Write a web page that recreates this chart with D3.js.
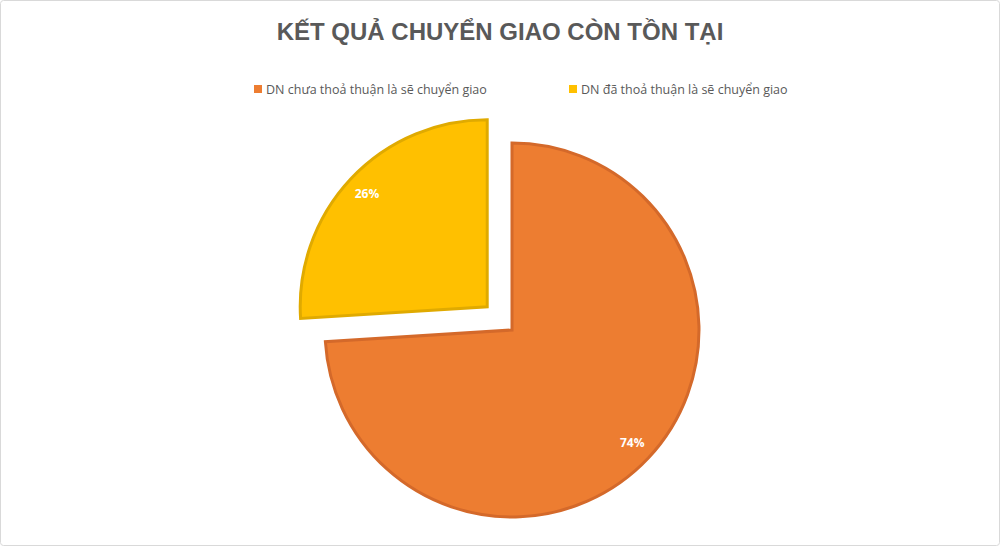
<!DOCTYPE html>
<html><head><meta charset="utf-8">
<script src="https://cdn.jsdelivr.net/npm/d3@7/dist/d3.min.js"></script>
<style>html,body{margin:0;padding:0;background:#fff;}svg{display:block;}</style>
</head><body>
<svg id="c" width="1000" height="546"></svg>
<script>
const title = "KẾT QUẢ CHUYỂN GIAO CÒN TỒN TẠI";
const categories = ["DN chưa thoả thuận là sẽ chuyển giao", "DN đã thoả thuận là sẽ chuyển giao"];
const values = [74, 26];
const colors = ["#ED7D31", "#FFC000"];
const strokes = ["#D4692A", "#E0AA00"];
const explode = [0, 34];

const svg = d3.select("#c");
const W = 1000, H = 546;
svg.append("rect").attr("x",0.5).attr("y",0.5).attr("width",W-1).attr("height",H-1)
  .attr("fill","#fff").attr("stroke","#d9d9d9").attr("rx",3);

svg.append("text").attr("x",500).attr("y",40).attr("text-anchor","middle")
  .attr("font-family","Liberation Sans, Arial, sans-serif").attr("font-weight","bold")
  .attr("font-size",24).attr("letter-spacing",0).attr("fill","#595959").text(title);

// legend
const legX = [254, 569];
const leg = svg.selectAll("g.leg").data(categories).join("g").attr("class","leg")
  .attr("transform",(d,i)=>`translate(${legX[i]},90)`);
leg.append("rect").attr("x",0).attr("y",-5).attr("width",8).attr("height",8).attr("fill",(d,i)=>colors[i]);
leg.append("text").attr("x",12).attr("y",3.5).attr("font-family","Open Sans, Liberation Sans, sans-serif")
  .attr("font-size",12.5).attr("fill","#595959").text(d=>d);

const cx = 512, cy = 330, r = 187;
const pie = d3.pie().sort(null).value(d=>d)(values);
const arc = d3.arc().innerRadius(0).outerRadius(r);
const g = svg.append("g").attr("transform",`translate(${cx},${cy})`);
const slices = g.selectAll("g.s").data(pie).join("g").attr("class","s")
  .attr("transform",(d,i)=>{const a=(d.startAngle+d.endAngle)/2;return `translate(${explode[i]*Math.sin(a)},${-explode[i]*Math.cos(a)})`;});
slices.append("path").attr("d",arc).attr("fill",(d,i)=>colors[i]).attr("stroke",(d,i)=>strokes[i])
  .attr("stroke-width",3).attr("stroke-linejoin","miter");
const labR = 165;
slices.append("text").attr("x",d=>labR*Math.sin((d.startAngle+d.endAngle)/2))
  .attr("y",d=>-labR*Math.cos((d.startAngle+d.endAngle)/2)+4)
  .attr("text-anchor","middle").attr("font-family","Open Sans, Liberation Sans, sans-serif")
  .attr("font-weight","bold").attr("font-size",12).attr("fill","#fff")
  .text(d=>Math.round(d.value/d3.sum(values)*100)+"%");
</script>
</body></html>
